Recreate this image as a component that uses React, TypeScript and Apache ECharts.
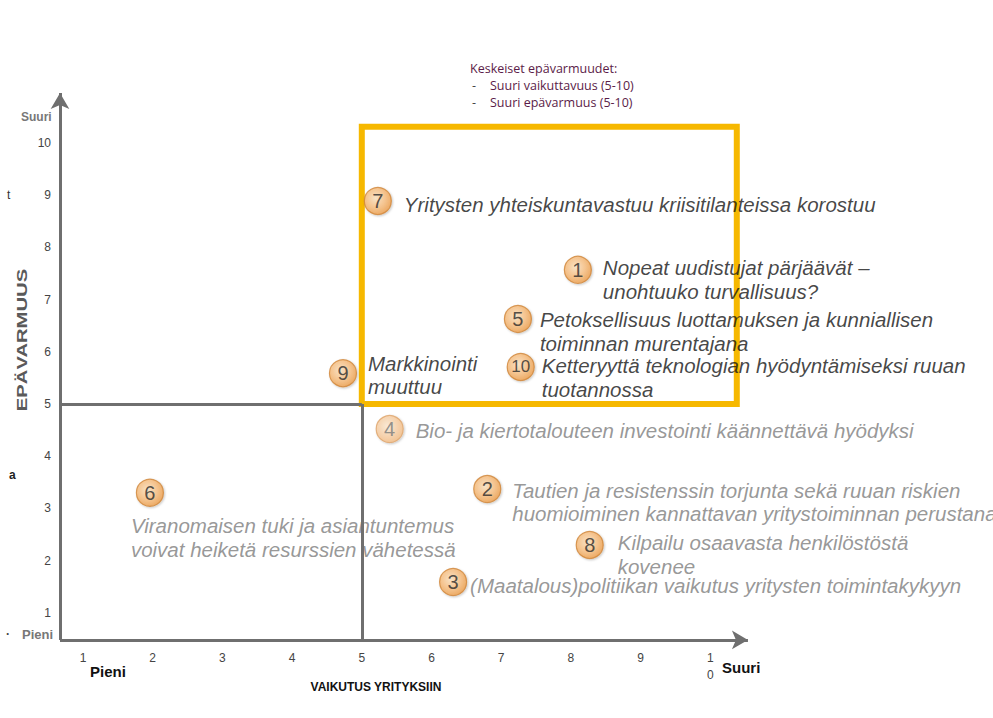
import React, { useEffect, useRef } from 'react';
import * as echarts from 'echarts';

// ---- data ----
const riskIds = ['7', '1', '5', '10', '9', '4', '2', '6', '8', '3'];
const impactValues = [5.23, 8.1, 7.24, 7.28, 4.73, 5.4, 6.8, 1.96, 8.27, 6.31];
const uncertaintyValues = [8.89, 7.57, 6.63, 5.71, 5.59, 4.52, 3.37, 3.3, 2.3, 1.59];
const riskTexts = [
  'Yritysten yhteiskuntavastuu kriisitilanteissa korostuu',
  'Nopeat uudistujat pärjäävät –\nunohtuuko turvallisuus?',
  'Petoksellisuus luottamuksen ja kunniallisen\ntoiminnan murentajana',
  'Ketteryyttä teknologian hyödyntämiseksi ruuan\ntuotannossa',
  'Markkinointi\nmuuttuu',
  'Bio- ja kiertotalouteen investointi käännettävä hyödyksi',
  'Tautien ja resistenssin torjunta sekä ruuan riskien\nhuomioiminen kannattavan yritystoiminnan perustana',
  'Viranomaisen tuki ja asiantuntemus\nvoivat heiketä resurssien vähetessä',
  'Kilpailu osaavasta henkilöstöstä\nkovenee',
  '(Maatalous)politiikan vaikutus yritysten toimintakykyyn',
];
const xTickLabels = ['1', '2', '3', '4', '5', '6', '7', '8', '9', '1\n0'];
const yTickLabels = ['1', '2', '3', '4', '5', '6', '7', '8', '9', '10'];
const threshold = 5;
const keyBoxMax = [10.38, 10.31];
const axisOrigin = [0.67, 0.48];
const axisEnds = [10.54, 10.96];
const noteLines = ['Keskeiset epävarmuudet:', 'Suuri vaikuttavuus (5-10)', 'Suuri epävarmuus (5-10)'];

// ---- layout / style (not data) ----
const labelOffsets = [
  [26, 4], [25, -2], [22, 1], [21, -1], [25, -10],
  [26, 1], [25, 1], [-19, 33], [28, -2], [17, 3],
];
const darkText = [true, true, true, true, true, false, false, false, false, false];
const fadedMarker = [false, false, false, false, false, true, false, false, false, false];

const FONT = 'Liberation Sans, Arial, sans-serif';
const NOTE_FONT = '12.5px "Open Sans", sans-serif';

export default function App() {
  const ref = useRef<HTMLDivElement>(null);
  useEffect(() => {
    if (!ref.current) return;
    const chart = echarts.init(ref.current, undefined, { renderer: 'svg' });
    const SYM = 27;
    const LH = 23.5;
    const markerFill = new echarts.graphic.RadialGradient(0.42, 0.4, 0.62, [
      { offset: 0, color: '#fde2bf' },
      { offset: 0.6, color: '#f7bb7a' },
      { offset: 1, color: '#ee9d48' },
    ]);
    const fadedFill = new echarts.graphic.RadialGradient(0.42, 0.4, 0.62, [
      { offset: 0, color: '#feead3' },
      { offset: 1, color: '#f5bd84' },
    ]);
    const option: any = {
      animation: false,
      grid: { left: 13.3, top: 90.8, width: 766.7, height: 574.2, containLabel: false },
      xAxis: {
        type: 'value', min: 0, max: 11, interval: 1, offset: -25,
        axisLine: { show: false }, axisTick: { show: false }, splitLine: { show: false },
        axisLabel: {
          margin: 9, color: '#444', fontSize: 12, lineHeight: 17, fontFamily: FONT,
          formatter: (v: number) => (v >= 1 && v <= 10 ? xTickLabels[v - 1] : ''),
        },
      },
      yAxis: {
        type: 'value', min: 0, max: 11, interval: 1, offset: -46.7,
        axisLine: { show: false }, axisTick: { show: false }, splitLine: { show: false },
        axisLabel: {
          margin: 9, color: '#444', fontSize: 12, fontFamily: FONT,
          formatter: (v: number) => (v >= 1 && v <= 10 ? yTickLabels[v - 1] : ''),
        },
      },
      graphic: [
        { type: 'text', left: 470, top: 62, style: { text: noteLines[0], fill: '#5b1c48', font: NOTE_FONT } },
        { type: 'text', left: 472, top: 79, style: { text: '-', fill: '#444', font: NOTE_FONT } },
        { type: 'text', left: 490, top: 79, style: { text: noteLines[1], fill: '#5b1c48', font: NOTE_FONT } },
        { type: 'text', left: 472, top: 96, style: { text: '-', fill: '#444', font: NOTE_FONT } },
        { type: 'text', left: 490, top: 96, style: { text: noteLines[2], fill: '#5b1c48', font: NOTE_FONT } },
        { type: 'text', left: 21, top: 111, style: { text: 'Suuri', fill: '#777', font: 'bold 12px ' + FONT } },
        { type: 'text', left: 22, top: 628, style: { text: 'Pieni', fill: '#777', font: 'bold 13px ' + FONT } },
        { type: 'text', left: 6, top: 628, style: { text: '·', fill: '#444', font: 'bold 12px ' + FONT } },
        { type: 'text', left: 7, top: 189, style: { text: 't', fill: '#333', font: '12px ' + FONT } },
        { type: 'text', left: 9, top: 469, style: { text: 'a', fill: '#222', font: 'bold 12px ' + FONT } },
        {
          type: 'text', x: 22, y: 340, rotation: Math.PI / 2, scaleX: 1.35,
          style: { text: 'EPÄVARMUUS', fill: '#5a5a5a', font: 'bold 15px ' + FONT, align: 'center', verticalAlign: 'middle' },
        },
        { type: 'text', left: 90, top: 664, style: { text: 'Pieni', fill: '#111', font: 'bold 15px ' + FONT } },
        { type: 'text', left: 722, top: 660, style: { text: 'Suuri', fill: '#111', font: 'bold 15px ' + FONT } },
        {
          type: 'text', x: 376, y: 687,
          style: { text: 'VAIKUTUS YRITYKSIIN', fill: '#111', font: 'bold 12px ' + FONT, align: 'center', verticalAlign: 'middle' },
        },
      ],
      series: [
        {
          type: 'line', data: [], silent: true, z: 1,
          markLine: {
            silent: true, symbol: ['none', 'none'], label: { show: false },
            lineStyle: { color: '#6f6f6f', width: 3, type: 'solid' },
            data: [
              [{ coord: [axisOrigin[0], axisOrigin[1]] }, { coord: [axisEnds[0], axisOrigin[1]], symbol: 'arrow', symbolSize: [14, 16] }],
              [{ coord: [axisOrigin[0], axisOrigin[1]] }, { coord: [axisOrigin[0], axisEnds[1]], symbol: 'arrow', symbolSize: [14, 16] }],
              [{ coord: [axisOrigin[0], threshold] }, { coord: [threshold, threshold] }],
              [{ coord: [threshold, axisOrigin[1]] }, { coord: [threshold, threshold] }],
            ],
          },
        },
        {
          type: 'scatter', z: 3, symbolSize: SYM,
          itemStyle: { color: 'rgba(0,0,0,0)' }, silent: true,
          data: riskIds.map((id, i) => ({
            value: [impactValues[i], uncertaintyValues[i]],
            label: {
              show: true,
              position: [SYM / 2 + labelOffsets[i][0], SYM / 2 + labelOffsets[i][1] - LH / 2],
              align: 'left', verticalAlign: 'top',
              formatter: riskTexts[i],
              color: darkText[i] ? '#151515' : '#7d7d7d',
              fontStyle: 'italic', fontSize: 20.5, lineHeight: LH, fontFamily: FONT,
            },
          })),
        },
        {
          type: 'scatter', z: 4, symbolSize: SYM, symbol: 'circle',
          data: riskIds.map((id, i) => ({
            value: [impactValues[i], uncertaintyValues[i]],
            itemStyle: {
              color: fadedMarker[i] ? fadedFill : markerFill,
              borderColor: fadedMarker[i] ? '#dea46a' : '#cf8537',
              borderWidth: 1.2,
              shadowColor: 'rgba(0,0,0,0.25)', shadowBlur: 2, shadowOffsetX: 1, shadowOffsetY: 1,
            },
            label: {
              show: true, position: 'inside', formatter: id,
              color: fadedMarker[i] ? '#7a7a7a' : '#2a2a2a',
              fontSize: id.length > 1 ? 17 : 20, fontFamily: FONT,
            },
          })),
        },
        {
          type: 'line', data: [], silent: true, z: 5,
          markArea: {
            silent: true,
            itemStyle: { color: 'rgba(0,0,0,0)', borderColor: '#f6b800', borderWidth: 6 },
            data: [[{ coord: [threshold, threshold] }, { coord: [keyBoxMax[0], keyBoxMax[1]] }]],
          },
        },
      ],
    };
    chart.setOption(option);
    return () => chart.dispose();
  }, []);
  return (
    <div
      ref={ref}
      style={{ position: 'fixed', left: 0, top: 0, width: 993, height: 718, background: '#fff' }}
    />
  );
}
